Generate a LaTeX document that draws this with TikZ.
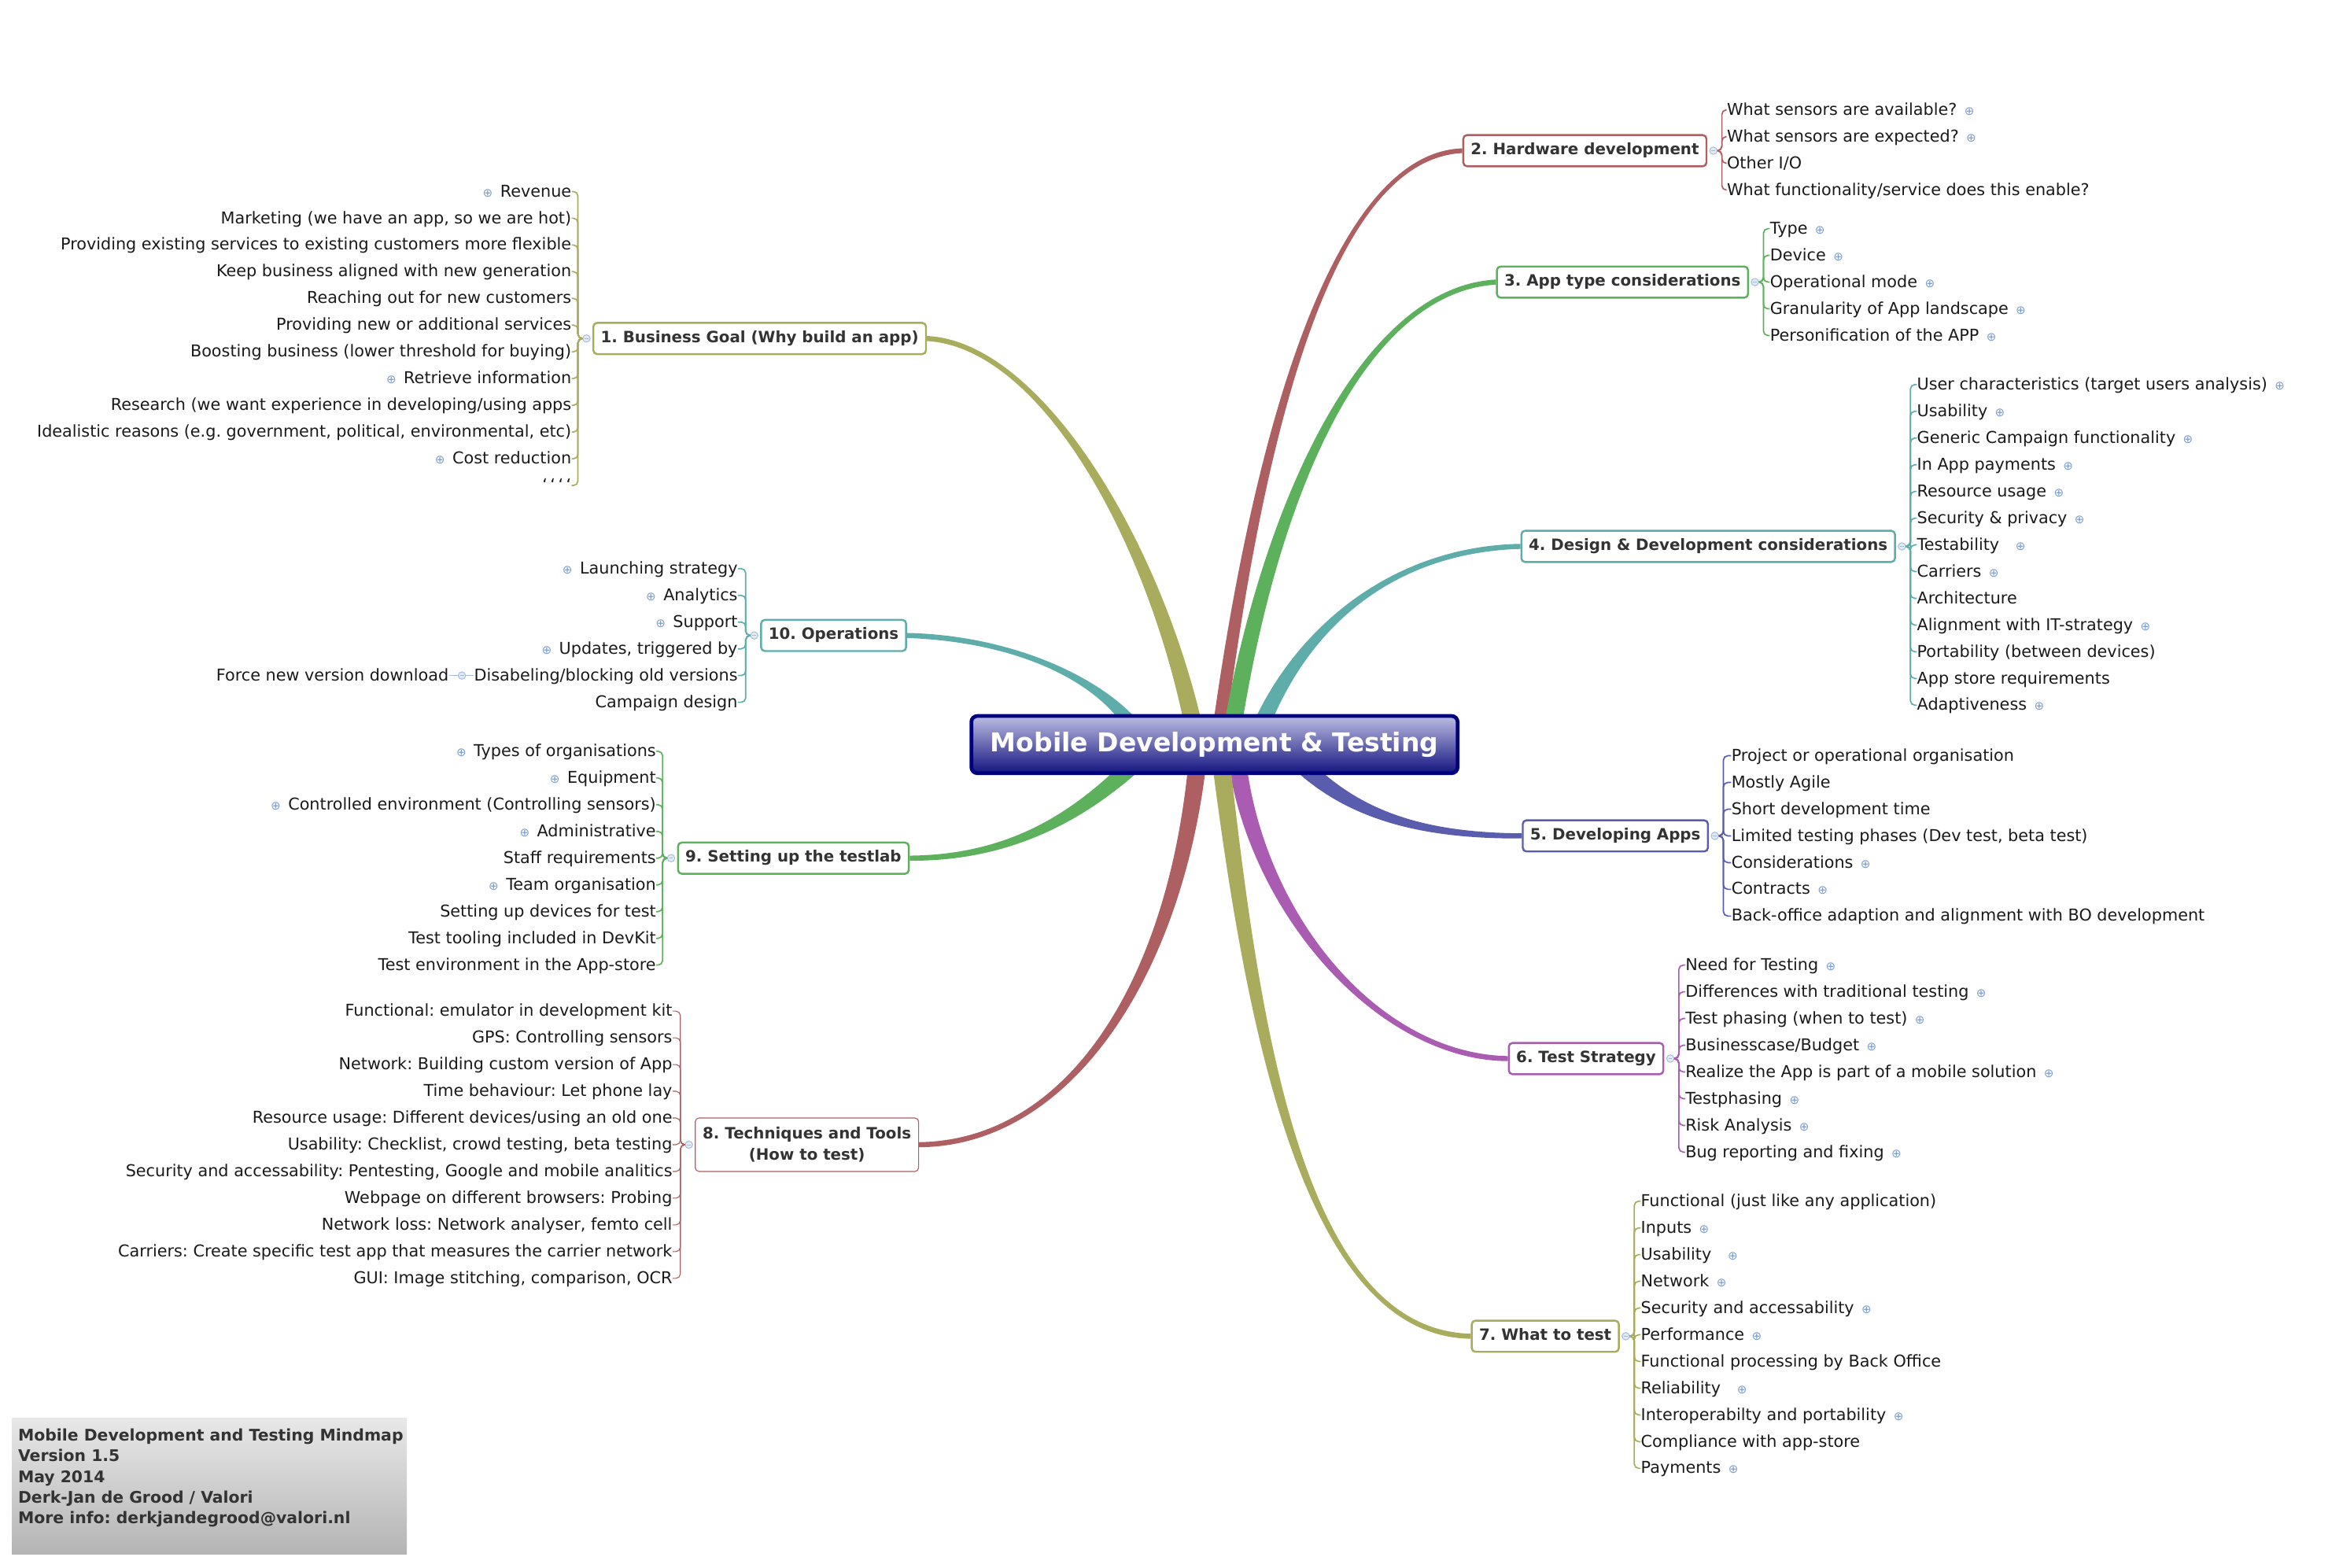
\documentclass[tikz,border=0pt]{standalone}
\usepackage{fontspec}
\setmainfont{DejaVu Sans}
\usetikzlibrary{calc,backgrounds}
\frenchspacing

\definecolor{olv}{HTML}{A9AC5C}
\definecolor{brk}{HTML}{AE5F61}
\definecolor{grn}{HTML}{5DB15D}
\definecolor{tel}{HTML}{5EADAA}
\definecolor{blu}{HTML}{5A5DAD}
\definecolor{prp}{HTML}{A95CB2}
\definecolor{navy}{HTML}{00007E}
\definecolor{rtop}{HTML}{BCBDE2}
\definecolor{rbot}{HTML}{141480}
\definecolor{itop}{HTML}{E8E8E8}
\definecolor{ibot}{HTML}{B4B4B4}
\definecolor{plus}{HTML}{7C9CC9}
\definecolor{hubd}{HTML}{A3BBDD}
\definecolor{hubf}{HTML}{E2EAF6}
\definecolor{tx}{HTML}{333333}
\definecolor{ti}{HTML}{1A1A1A}

% little "more" markers after / before an item
\newcommand\plusr{\hspace{5pt}{\color{plus}\fontsize{8}{8}\selectfont ⊕}}
\newcommand\plusl{{\color{plus}\fontsize{8}{8}\selectfont ⊕}\hspace{5pt}}

% tapered main branch: colour, start, control 1, control 2, end, start offset, end offset
\newcommand\branch[7]{%
  \fill[#1] ($#2+#6$) .. controls ($#3+0.75*#6$) and ($#4+1.3*#7$) .. ($#5+#7$)
    -- ($#5-#7$) .. controls ($#4-1.3*#7$) and ($#3-0.75*#6$) .. ($#2-#6$) -- cycle;}

\tikzset{
  root/.style  = {draw=navy, line width=2.5pt, rounded corners=4pt,
                  top color=rtop, bottom color=rbot, text=white,
                  font=\fontsize{17.5}{21}\bfseries,
                  minimum width=327.5pt, minimum height=38.5pt},
  topic/.style = {draw=#1, line width=1.3pt, rounded corners=2.5pt, fill=white,
                  text=tx, font=\fontsize{10.5}{13}\bfseries, inner xsep=5pt,
                  minimum height=21pt, text height=7.5pt, text depth=2pt},
  itm/.style   = {inner sep=0pt, text=ti, font=\fontsize{11}{13}\selectfont,
                  text height=9pt, text depth=2pt},
  hub/.style   = {circle, draw=hubd, fill=hubf, line width=0.5pt,
                  minimum size=5pt, inner sep=0pt,
                  path picture={\draw[hubd, line width=0.4pt]
                    ([xshift=-1.3pt]path picture bounding box.center) --
                    ([xshift=1.3pt]path picture bounding box.center);}},
  twig/.style  = {draw=#1, line width=0.9pt, rounded corners=3pt}
}

\begin{document}
\begin{tikzpicture}[x=1pt, y=-1pt]
\useasboundingbox (0,0) rectangle (1568,1056);

\node[root] (root) at (818,501.5) {Mobile Development \& Testing};

% topics
\node[topic=olv, anchor=west] (t1) at (399,228) {1. Business Goal (Why build an app)};
\node[topic=brk, anchor=east] (t2) at (1150,101.5) {2. Hardware development};
\node[topic=grn, anchor=east] (t3) at (1178,190) {3. App type considerations};
\node[topic=tel, anchor=east] (t4) at (1277,368) {4. Design \& Development considerations};
\node[topic=blu, anchor=east] (t5) at (1151,563) {5. Developing Apps};
\node[topic=prp, anchor=east] (t6) at (1121,713) {6. Test Strategy};
\node[topic=olv, anchor=east] (t7) at (1091,900) {7. What to test};
\node[topic=brk, anchor=west, line width=0.6pt, align=center, text height=, text depth=,
      minimum height=36pt, font=\fontsize{10.5}{14}\bfseries] (t8) at (468,771)
      {8. Techniques and Tools\\(How to test)};
\node[topic=grn, anchor=west] (t9) at (456,578) {9. Setting up the testlab};
\node[topic=tel, anchor=west] (t10) at (512,428) {10. Operations};

% hubs
\foreach \n in {2,...,7} \node[hub] (h\n) at ($(t\n.east)+(4,0)$) {};
\foreach \n in {1,8,9,10} \node[hub] (h\n) at ($(t\n.west)+(-4,0)$) {};

% 1. business goal
\foreach \t [count=\i] in {\plusl Revenue, Marketing (we have an app{,} so we are hot),
    Providing existing services to existing customers more flexible,
    Keep business aligned with new generation, Reaching out for new customers,
    Providing new or additional services, Boosting business (lower threshold for buying),
    \plusl Retrieve information, Research (we want experience in developing/using apps,
    {Idealistic reasons (e.g. government, political, environmental, etc)},
    \plusl Cost reduction, \symbol{96}\,\symbol{96}\,\symbol{96}\,\symbol{96}}
  \node[itm, anchor=east] (g-\i) at (385,111+18*\i) {\t};
\foreach \i in {1,...,12} \draw[twig=olv] (h1.west) -- ++(-3,0) |- (g-\i.east);

% 2. hardware
\foreach \t [count=\i] in {What sensors are available?\plusr, What sensors are expected?\plusr,
    Other I/O, What functionality/service does this enable?}
  \node[itm, anchor=west] (h-\i) at (1163,56+18*\i) {\t};
\foreach \i in {1,...,4} \draw[twig=brk] (h2.east) -- ++(3,0) |- (h-\i.west);

% 3. app type
\foreach \t [count=\i] in {Type\plusr, Device\plusr, Operational mode\plusr,
    Granularity of App landscape\plusr, Personification of the APP\plusr}
  \node[itm, anchor=west] (k-\i) at (1192,136+18*\i) {\t};
\foreach \i in {1,...,5} \draw[twig=grn] (h3.east) -- ++(3,0) |- (k-\i.west);

% 4. design & development
\foreach \t [count=\i] in {User characteristics (target users analysis)\plusr, Usability\plusr,
    Generic Campaign functionality\plusr, In App payments\plusr, Resource usage\plusr,
    Security \& privacy\plusr, Testability\hspace{6pt}\plusr, Carriers\plusr, Architecture,
    Alignment with IT-strategy\plusr, Portability (between devices),
    App store requirements, Adaptiveness\plusr}
  \node[itm, anchor=west] (d-\i) at (1291,241+18*\i) {\t};
\foreach \i in {1,...,13} \draw[twig=tel] (h4.east) -- ++(3,0) |- (d-\i.west);

% 5. developing apps
\foreach \t [count=\i] in {Project or operational organisation, Mostly Agile,
    Short development time, {Limited testing phases (Dev test, beta test)},
    Considerations\plusr, Contracts\plusr,
    Back-office adaption and alignment with BO development}
  \node[itm, anchor=west] (v-\i) at (1166,491+18*\i) {\t};
\foreach \i in {1,...,7} \draw[twig=blu] (h5.east) -- ++(3,0) |- (v-\i.west);

% 6. test strategy
\foreach \t [count=\i] in {Need for Testing\plusr, Differences with traditional testing\plusr,
    Test phasing (when to test)\plusr, Businesscase/Budget\plusr,
    Realize the App is part of a mobile solution\plusr, Testphasing\plusr,
    Risk Analysis\plusr, Bug reporting and fixing\plusr}
  \node[itm, anchor=west] (s-\i) at (1135,632+18*\i) {\t};
\foreach \i in {1,...,8} \draw[twig=prp] (h6.east) -- ++(3,0) |- (s-\i.west);

% 7. what to test
\foreach \t [count=\i] in {Functional (just like any application), Inputs\plusr,
    Usability\hspace{6pt}\plusr, Network\plusr, Security and accessability\plusr,
    Performance\plusr, Functional processing by Back Office, Reliability\hspace{6pt}\plusr,
    Interoperabilty and portability\plusr, Compliance with app-store, Payments\plusr}
  \node[itm, anchor=west] (w-\i) at (1105,791+18*\i) {\t};
\foreach \i in {1,...,11} \draw[twig=olv] (h7.east) -- ++(3,0) |- (w-\i.west);

% 8. techniques and tools
\foreach \t [count=\i] in {Functional: emulator in development kit, GPS: Controlling sensors,
    Network: Building custom version of App, Time behaviour: Let phone lay,
    Resource usage: Different devices/using an old one,
    {Usability: Checklist, crowd testing, beta testing},
    {Security and accessability: Pentesting, Google and mobile analitics},
    Webpage on different browsers: Probing, {Network loss: Network analyser, femto cell},
    Carriers: Create specific test app that measures the carrier network,
    {GUI: Image stitching, comparison, OCR}}
  \node[itm, anchor=east] (q-\i) at (453,663+18*\i) {\t};
\foreach \i in {1,...,11} \draw[twig=brk, line width=0.6pt] (h8.west) -- ++(-3,0) |- (q-\i.east);

% 9. testlab
\foreach \t [count=\i] in {\plusl Types of organisations, \plusl Equipment,
    \plusl Controlled environment (Controlling sensors), \plusl Administrative,
    Staff requirements, \plusl Team organisation\hspace{12pt}, Setting up devices for test,
    Test tooling included in DevKit, Test environment in the App-store}
  \node[itm, anchor=east] (l-\i) at (442,488+18*\i) {\t};
\foreach \i in {1,...,9} \draw[twig=grn] (h9.west) -- ++(-3,0) |- (l-\i.east);

% 10. operations
\foreach \t [count=\i] in {\plusl Launching strategy, \plusl Analytics, \plusl Support,
    {\plusl Updates, triggered by}, Disabeling/blocking old versions, Campaign design}
  \node[itm, anchor=east] (o-\i) at (497,365+18*\i) {\t};
\foreach \i in {1,...,6} \draw[twig=tel] (h10.west) -- ++(-3,0) |- (o-\i.east);
\node[hub] (h11) at ($(o-5.west)+(-8,0)$) {};
\node[itm, anchor=east] (o-5a) at ($(h11.west)+(-6,0)$) {Force new version download};
\draw[twig=hubd] (o-5.west) -- (h11.east);
\draw[twig=hubd] (h11.west) -- (o-5a.east);

% info block
\shade[top color=itop, bottom color=ibot] (8,955) rectangle (274,1047);
\node[anchor=north west, align=left, inner sep=0pt, text=tx,
      font=\fontsize{10.8}{14}\bfseries] (info) at (12,962)
  {Mobile Development and Testing Mindmap\\Version 1.5\\May 2014\\
   Derk-Jan de Grood / Valori\\More info: derkjandegrood@valori.nl};

% branches
\foreach \n/\dx in {1/-15,2/4,3/13,4/33,10/-58} \coordinate (r\n) at ($(root.north)+(\dx,4)$);
\foreach \n/\dx in {5/62,6/16,7/5,8/-12,9/-58} \coordinate (r\n) at ($(root.south)+(\dx,-4)$);
\begin{pgfonlayer}{background}
\branch{olv}{(r1)}{(775,360)}{(700,232)}{(t1.east)}{(-6,0)}{(0,1.7)}
\branch{brk}{(r2)}{(850,280)}{(900,105)}{(t2.west)}{(-4.5,0)}{(0,-1.6)}
\branch{grn}{(r3)}{(858,330)}{(920,195)}{(t3.west)}{(-6,0)}{(0,-1.7)}
\branch{tel}{(r4)}{(880,420)}{(940,370)}{(t4.west)}{(-6,0)}{(0,-1.7)}
\branch{blu}{(r5)}{(915,550)}{(960,563)}{(t5.west)}{(4,-4)}{(0,-1.7)}
\branch{prp}{(r6)}{(850,620)}{(930,712)}{(t6.west)}{(6,0)}{(0,-1.7)}
\branch{olv}{(r7)}{(845,700)}{(880,898)}{(t7.west)}{(6,0)}{(0,-1.7)}
\branch{brk}{(r8)}{(790,660)}{(720,770)}{(t8.east)}{(6,0)}{(0,1.7)}
\branch{grn}{(r9)}{(725,550)}{(680,578)}{(t9.east)}{(4,4)}{(0,1.7)}
\branch{tel}{(r10)}{(735,455)}{(680,430)}{(t10.east)}{(-6,0)}{(0,1.7)}
\end{pgfonlayer}
\end{tikzpicture}
\end{document}
